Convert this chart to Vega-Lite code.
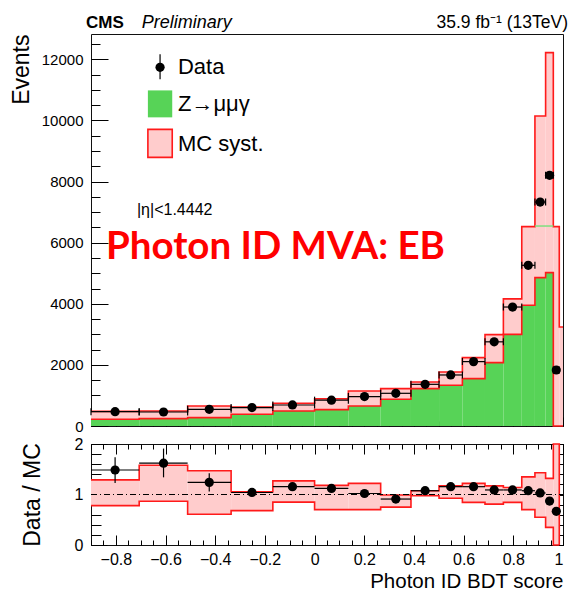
{
  "$schema": "https://vega.github.io/schema/vega-lite/v6.json",
  "padding": {"left": 9, "top": 13, "right": 2, "bottom": 2},
  "bounds": "flush",
  "spacing": 18,
  "background": "white",
  "config": {
    "view": {"stroke": "#111", "strokeWidth": 1},
    "axis": {"domain": false, "grid": false, "labelFont": "Liberation Sans", "labelFontSize": 15, "labelColor": "#000", "labelOverlap": false, "tickColor": "#000", "tickWidth": 1, "titleFont": "Liberation Sans", "titleFontWeight": "normal", "titleColor": "#000"},
    "text": {"font": "Liberation Sans", "color": "#000"}
  },
  "datasets": {
    "bins": [
      {"x0": -0.9, "x1": -0.706, "lo": 220, "hi": 480},
      {"x0": -0.706, "x1": -0.511, "lo": 242, "hi": 491},
      {"x0": -0.511, "x1": -0.336, "lo": 275, "hi": 654},
      {"x0": -0.336, "x1": -0.168, "lo": 383, "hi": 622},
      {"x0": -0.168, "x1": 0, "lo": 491, "hi": 743},
      {"x0": 0, "x1": 0.136, "lo": 535, "hi": 890},
      {"x0": 0.136, "x1": 0.266, "lo": 655, "hi": 1146},
      {"x0": 0.266, "x1": 0.388, "lo": 874, "hi": 1222},
      {"x0": 0.388, "x1": 0.501, "lo": 1222, "hi": 1441},
      {"x0": 0.501, "x1": 0.595, "lo": 1332, "hi": 1767},
      {"x0": 0.595, "x1": 0.686, "lo": 1551, "hi": 2238},
      {"x0": 0.686, "x1": 0.76, "lo": 2074, "hi": 2990},
      {"x0": 0.76, "x1": 0.834, "lo": 3000, "hi": 4160},
      {"x0": 0.834, "x1": 0.887, "lo": 3950, "hi": 6525},
      {"x0": 0.887, "x1": 0.93, "lo": 4856, "hi": 10145},
      {"x0": 0.93, "x1": 0.961, "lo": 5020, "hi": 12220},
      {"x0": 0.961, "x1": 0.985, "lo": 0, "hi": 6525},
      {"x0": 0.985, "x1": 1.0, "lo": 0, "hi": 3240}
    ],
    "outline": [
      {"x": -0.9, "hi": 480, "lo": 220},
      {"x": -0.706, "hi": 491, "lo": 242},
      {"x": -0.511, "hi": 654, "lo": 275},
      {"x": -0.336, "hi": 622, "lo": 383},
      {"x": -0.168, "hi": 743, "lo": 491},
      {"x": 0, "hi": 890, "lo": 535},
      {"x": 0.136, "hi": 1146, "lo": 655},
      {"x": 0.266, "hi": 1222, "lo": 874},
      {"x": 0.388, "hi": 1441, "lo": 1222},
      {"x": 0.501, "hi": 1767, "lo": 1332},
      {"x": 0.595, "hi": 2238, "lo": 1551},
      {"x": 0.686, "hi": 2990, "lo": 2074},
      {"x": 0.76, "hi": 4160, "lo": 3000},
      {"x": 0.834, "hi": 6525, "lo": 3950},
      {"x": 0.887, "hi": 10145, "lo": 4856},
      {"x": 0.93, "hi": 12220, "lo": 5020},
      {"x": 0.961, "hi": 6525, "lo": 0},
      {"x": 0.985, "hi": 3240, "lo": 0},
      {"x": 1.0, "hi": 3240, "lo": 0}
    ],
    "stripe": [{"x0": 0.887, "x1": 0.961, "y": 6545}],
    "pts": [
      {"x0": -0.9, "x1": -0.706, "xc": -0.803, "d": 470, "r": 1.485, "elo": 1.23, "ehi": 1.74},
      {"x0": -0.706, "x1": -0.511, "xc": -0.608, "d": 458, "r": 1.62, "elo": 1.34, "ehi": 1.91},
      {"x0": -0.511, "x1": -0.336, "xc": -0.424, "d": 546, "r": 1.24, "elo": 1.06, "ehi": 1.42},
      {"x0": -0.336, "x1": -0.168, "xc": -0.252, "d": 602, "r": 1.04, "elo": 0.96, "ehi": 1.12},
      {"x0": -0.168, "x1": 0, "xc": -0.089, "d": 688, "r": 1.155, "elo": 1.08, "ehi": 1.23},
      {"x0": 0, "x1": 0.136, "xc": 0.068, "d": 846, "r": 1.12, "elo": 1.06, "ehi": 1.18},
      {"x0": 0.136, "x1": 0.266, "xc": 0.201, "d": 962, "r": 1.02, "elo": 0.97, "ehi": 1.07},
      {"x0": 0.266, "x1": 0.388, "xc": 0.327, "d": 1070, "r": 0.91, "elo": 0.87, "ehi": 0.95},
      {"x0": 0.388, "x1": 0.501, "xc": 0.445, "d": 1364, "r": 1.075, "elo": 1.04, "ehi": 1.11},
      {"x0": 0.501, "x1": 0.595, "xc": 0.548, "d": 1670, "r": 1.155, "elo": 1.12, "ehi": 1.19},
      {"x0": 0.595, "x1": 0.686, "xc": 0.64, "d": 2107, "r": 1.155, "elo": 1.12, "ehi": 1.19},
      {"x0": 0.686, "x1": 0.76, "xc": 0.723, "d": 2755, "r": 1.09, "elo": 1.06, "ehi": 1.12},
      {"x0": 0.76, "x1": 0.834, "xc": 0.797, "d": 3894, "r": 1.09, "elo": 1.06, "ehi": 1.12},
      {"x0": 0.834, "x1": 0.887, "xc": 0.86, "d": 5259, "r": 1.075, "elo": 1.05, "ehi": 1.1},
      {"x0": 0.887, "x1": 0.93, "xc": 0.908, "d": 7330, "r": 1.03, "elo": 1.01, "ehi": 1.05},
      {"x0": 0.93, "x1": 0.961, "xc": 0.946, "d": 8204, "r": 0.87, "elo": 0.85, "ehi": 0.89},
      {"x0": 0.961, "x1": 0.985, "xc": 0.973, "d": 1833, "r": 0.667, "elo": 0.64, "ehi": 0.69}
    ],
    "rband": [
      {"x0": -0.9, "x1": -0.706, "rlo": 0.78, "rhi": 1.29},
      {"x0": -0.706, "x1": -0.511, "rlo": 0.865, "rhi": 1.58},
      {"x0": -0.511, "x1": -0.336, "rlo": 0.61, "rhi": 1.47},
      {"x0": -0.336, "x1": -0.168, "rlo": 0.68, "rhi": 1.055},
      {"x0": -0.168, "x1": 0, "rlo": 0.85, "rhi": 1.27},
      {"x0": 0, "x1": 0.136, "rlo": 0.7, "rhi": 1.18},
      {"x0": 0.136, "x1": 0.266, "rlo": 0.7, "rhi": 1.22},
      {"x0": 0.266, "x1": 0.388, "rlo": 0.75, "rhi": 0.99},
      {"x0": 0.388, "x1": 0.501, "rlo": 0.975, "rhi": 1.075},
      {"x0": 0.501, "x1": 0.595, "rlo": 0.925, "rhi": 1.17},
      {"x0": 0.595, "x1": 0.686, "rlo": 0.845, "rhi": 1.22},
      {"x0": 0.686, "x1": 0.76, "rlo": 0.81, "rhi": 1.17},
      {"x0": 0.76, "x1": 0.834, "rlo": 0.845, "rhi": 1.14},
      {"x0": 0.834, "x1": 0.887, "rlo": 0.7, "rhi": 1.35},
      {"x0": 0.887, "x1": 0.93, "rlo": 0.55, "rhi": 1.43},
      {"x0": 0.93, "x1": 0.961, "rlo": 0.35, "rhi": 1.32},
      {"x0": 0.961, "x1": 0.985, "rlo": 0, "rhi": 2}
    ],
    "routline": [
      {"x": -0.9, "rhi": 1.29, "rlo": 0.78},
      {"x": -0.706, "rhi": 1.58, "rlo": 0.865},
      {"x": -0.511, "rhi": 1.47, "rlo": 0.61},
      {"x": -0.336, "rhi": 1.055, "rlo": 0.68},
      {"x": -0.168, "rhi": 1.27, "rlo": 0.85},
      {"x": 0, "rhi": 1.18, "rlo": 0.7},
      {"x": 0.136, "rhi": 1.22, "rlo": 0.7},
      {"x": 0.266, "rhi": 0.99, "rlo": 0.75},
      {"x": 0.388, "rhi": 1.075, "rlo": 0.975},
      {"x": 0.501, "rhi": 1.17, "rlo": 0.925},
      {"x": 0.595, "rhi": 1.22, "rlo": 0.845},
      {"x": 0.686, "rhi": 1.17, "rlo": 0.81},
      {"x": 0.76, "rhi": 1.14, "rlo": 0.845},
      {"x": 0.834, "rhi": 1.35, "rlo": 0.7},
      {"x": 0.887, "rhi": 1.43, "rlo": 0.55},
      {"x": 0.93, "rhi": 1.32, "rlo": 0.35},
      {"x": 0.961, "rhi": 2, "rlo": 0},
      {"x": 0.985, "rhi": 0, "rlo": 0}
    ],
    "unity": [{"x0": -0.9, "x1": 1.0, "y": 1}],
    "notes": [
      {"k": "cms", "x": -0.92, "y": 13014, "t": "CMS"},
      {"k": "prel", "x": -0.696, "y": 13014, "t": "Preliminary"},
      {"k": "lumi", "x": 1.02, "y": 13030, "t": "35.9 fb⁻¹ (13TeV)"},
      {"k": "leg", "x": -0.55, "y": 11740, "t": "Data"},
      {"k": "leg", "x": -0.55, "y": 10527, "t": "Z→μμγ"},
      {"k": "leg", "x": -0.55, "y": 9220, "t": "MC syst."},
      {"k": "eta", "x": -0.715, "y": 7060, "t": "|η|<1.4442"},
      {"k": "big", "x": -0.84, "y": 5870, "t": "Photon ID MVA: EB"}
    ],
    "legpt": [{"x": -0.622, "y": 11740, "ylo": 11347, "yhi": 12166}],
    "legbox": [
      {"k": "mc", "x0": -0.671, "x1": -0.573, "y0": 10102, "y1": 10984},
      {"k": "syst", "x0": -0.671, "x1": -0.573, "y0": 8793, "y1": 9709}
    ]
  },
  "vconcat": [
    {
      "width": 472,
      "height": 392,
      "resolve": {"scale": {"x": "shared", "y": "shared"}, "axis": {"x": "independent", "y": "independent"}},
      "layer": [
        {
          "data": {"name": "bins"},
          "mark": {"type": "rect", "fill": "#57D357"},
          "encoding": {
            "x": {"field": "x0", "type": "quantitative", "scale": {"domain": [-0.9, 1.0], "nice": false, "zero": false},
                  "axis": {"orient": "bottom", "values": [-0.8, -0.6, -0.4, -0.2, 0, 0.2, 0.4, 0.6, 0.8, 1.0], "labels": false, "tickSize": -9, "title": null}},
            "x2": {"field": "x1"},
            "y": {"field": "lo", "type": "quantitative", "scale": {"domain": [0, 12830], "nice": false},
                  "axis": {"orient": "left", "values": [0, 2000, 4000, 6000, 8000, 10000, 12000], "format": "d", "tickSize": -17, "labelPadding": 25, "title": "Events", "titleFontSize": 23, "titleAnchor": "end", "titlePadding": 8}},
            "y2": {"datum": 0}
          }
        },
        {
          "data": {"name": "bins"},
          "mark": {"type": "rect", "fill": "#FFCCCC"},
          "encoding": {
            "x": {"field": "x0", "type": "quantitative",
                  "axis": {"orient": "bottom", "values": [-0.9,-0.85,-0.8,-0.75,-0.7,-0.65,-0.6,-0.55,-0.5,-0.45,-0.4,-0.35,-0.3,-0.25,-0.2,-0.15,-0.1,-0.05,0,0.05,0.1,0.15,0.2,0.25,0.3,0.35,0.4,0.45,0.5,0.55,0.6,0.65,0.7,0.75,0.8,0.85,0.9,0.95,1.0], "labels": false, "tickSize": -5, "title": null}},
            "x2": {"field": "x1"},
            "y": {"field": "lo", "type": "quantitative",
                  "axis": {"orient": "left", "values": [0,500,1000,1500,2000,2500,3000,3500,4000,4500,5000,5500,6000,6500,7000,7500,8000,8500,9000,9500,10000,10500,11000,11500,12000,12500], "labels": false, "tickSize": -9, "title": null}},
            "y2": {"field": "hi"}
          }
        },
        {
          "data": {"name": "outline"},
          "mark": {"type": "line", "interpolate": "step-after", "stroke": "#FF1A1A", "strokeWidth": 1.6},
          "encoding": {
            "x": {"field": "x", "type": "quantitative", "axis": null},
            "y": {"field": "hi", "type": "quantitative", "axis": null}
          }
        },
        {
          "data": {"name": "outline"},
          "mark": {"type": "line", "interpolate": "step-after", "stroke": "#FF1A1A", "strokeWidth": 1.6},
          "encoding": {
            "x": {"field": "x", "type": "quantitative", "axis": null},
            "y": {"field": "lo", "type": "quantitative", "axis": null}
          }
        },
        {
          "data": {"name": "stripe"},
          "mark": {"type": "rule", "stroke": "#7FDF7F", "strokeWidth": 1.5},
          "encoding": {
            "x": {"field": "x0", "type": "quantitative", "axis": null},
            "x2": {"field": "x1"},
            "y": {"field": "y", "type": "quantitative", "axis": null}
          }
        },
        {
          "data": {"name": "pts"},
          "mark": {"type": "rule", "stroke": "#000", "strokeWidth": 1.2},
          "encoding": {
            "x": {"field": "x0", "type": "quantitative", "axis": null},
            "x2": {"field": "x1"},
            "y": {"field": "d", "type": "quantitative", "axis": null}
          }
        },
        {
          "data": {"name": "pts"},
          "mark": {"type": "tick", "orient": "vertical", "color": "#000", "size": 7, "thickness": 1.2, "opacity": 1},
          "encoding": {
            "x": {"field": "x0", "type": "quantitative", "axis": null},
            "y": {"field": "d", "type": "quantitative", "axis": null}
          }
        },
        {
          "data": {"name": "pts"},
          "mark": {"type": "tick", "orient": "vertical", "color": "#000", "size": 7, "thickness": 1.2, "opacity": 1},
          "encoding": {
            "x": {"field": "x1", "type": "quantitative", "axis": null},
            "y": {"field": "d", "type": "quantitative", "axis": null}
          }
        },
        {
          "data": {"name": "pts"},
          "mark": {"type": "point", "shape": "circle", "filled": true, "fill": "#000", "opacity": 1, "size": 85},
          "encoding": {
            "x": {"field": "xc", "type": "quantitative", "axis": null},
            "y": {"field": "d", "type": "quantitative", "axis": null}
          }
        },
        {
          "data": {"name": "legbox"},
          "transform": [{"filter": "datum.k == 'mc'"}],
          "mark": {"type": "rect", "fill": "#57D357"},
          "encoding": {
            "x": {"field": "x0", "type": "quantitative", "axis": null},
            "x2": {"field": "x1"},
            "y": {"field": "y0", "type": "quantitative", "axis": null},
            "y2": {"field": "y1"}
          }
        },
        {
          "data": {"name": "legbox"},
          "transform": [{"filter": "datum.k == 'syst'"}],
          "mark": {"type": "rect", "fill": "#FFCCCC", "stroke": "#FF1A1A", "strokeWidth": 1.6},
          "encoding": {
            "x": {"field": "x0", "type": "quantitative", "axis": null},
            "x2": {"field": "x1"},
            "y": {"field": "y0", "type": "quantitative", "axis": null},
            "y2": {"field": "y1"}
          }
        },
        {
          "data": {"name": "legpt"},
          "mark": {"type": "rule", "stroke": "#000", "strokeWidth": 1.2},
          "encoding": {
            "x": {"field": "x", "type": "quantitative", "axis": null},
            "y": {"field": "ylo", "type": "quantitative", "axis": null},
            "y2": {"field": "yhi"}
          }
        },
        {
          "data": {"name": "legpt"},
          "mark": {"type": "point", "shape": "circle", "filled": true, "fill": "#000", "opacity": 1, "size": 85},
          "encoding": {
            "x": {"field": "x", "type": "quantitative", "axis": null},
            "y": {"field": "y", "type": "quantitative", "axis": null}
          }
        },
        {
          "data": {"name": "notes"},
          "transform": [{"filter": "datum.k == 'cms'"}],
          "mark": {"type": "text", "align": "left", "baseline": "alphabetic", "fontSize": 17, "fontWeight": "bold"},
          "encoding": {
            "x": {"field": "x", "type": "quantitative", "axis": null},
            "y": {"field": "y", "type": "quantitative", "axis": null},
            "text": {"field": "t"}
          }
        },
        {
          "data": {"name": "notes"},
          "transform": [{"filter": "datum.k == 'prel'"}],
          "mark": {"type": "text", "align": "left", "baseline": "alphabetic", "fontSize": 18, "fontStyle": "italic"},
          "encoding": {
            "x": {"field": "x", "type": "quantitative", "axis": null},
            "y": {"field": "y", "type": "quantitative", "axis": null},
            "text": {"field": "t"}
          }
        },
        {
          "data": {"name": "notes"},
          "transform": [{"filter": "datum.k == 'lumi'"}],
          "mark": {"type": "text", "align": "right", "baseline": "alphabetic", "fontSize": 17.5},
          "encoding": {
            "x": {"field": "x", "type": "quantitative", "axis": null},
            "y": {"field": "y", "type": "quantitative", "axis": null},
            "text": {"field": "t"}
          }
        },
        {
          "data": {"name": "notes"},
          "transform": [{"filter": "datum.k == 'leg'"}],
          "mark": {"type": "text", "align": "left", "baseline": "middle", "fontSize": 22},
          "encoding": {
            "x": {"field": "x", "type": "quantitative", "axis": null},
            "y": {"field": "y", "type": "quantitative", "axis": null},
            "text": {"field": "t"}
          }
        },
        {
          "data": {"name": "notes"},
          "transform": [{"filter": "datum.k == 'eta'"}],
          "mark": {"type": "text", "align": "left", "baseline": "middle", "fontSize": 16},
          "encoding": {
            "x": {"field": "x", "type": "quantitative", "axis": null},
            "y": {"field": "y", "type": "quantitative", "axis": null},
            "text": {"field": "t"}
          }
        },
        {
          "data": {"name": "notes"},
          "transform": [{"filter": "datum.k == 'big'"}],
          "mark": {"type": "text", "align": "left", "baseline": "middle", "fontSize": 38.5, "fontWeight": "bold", "font": "Lato", "color": "#FF0000"},
          "encoding": {
            "x": {"field": "x", "type": "quantitative", "axis": null},
            "y": {"field": "y", "type": "quantitative", "axis": null},
            "text": {"field": "t"}
          }
        }
      ]
    },
    {
      "width": 472,
      "height": 101,
      "resolve": {"scale": {"x": "shared", "y": "shared"}, "axis": {"x": "independent", "y": "independent"}},
      "layer": [
        {
          "data": {"name": "rband"},
          "mark": {"type": "rect", "fill": "#FFCCCC"},
          "encoding": {
            "x": {"field": "x0", "type": "quantitative", "scale": {"domain": [-0.9, 1.0], "nice": false, "zero": false},
                  "axis": {"orient": "bottom", "values": [-0.8, -0.6, -0.4, -0.2, 0, 0.2, 0.4, 0.6, 0.8, 1.0], "format": "~g", "labelFontSize": 16, "tickSize": -10, "labelPadding": 16, "title": "Photon ID BDT score", "titleFontSize": 20.5, "titleAnchor": "end", "titlePadding": 4}},
            "x2": {"field": "x1"},
            "y": {"field": "rlo", "type": "quantitative", "scale": {"domain": [0, 2], "nice": false},
                  "axis": {"orient": "left", "values": [0, 1, 2], "labelExpr": "datum.value == 0 ? '0' : (datum.value == 1 ? '1' : '2')", "labelOverlap": false, "labelBound": false, "labelFlush": false, "labelFontSize": 16, "tickSize": -16, "labelPadding": 24, "title": "Data / MC", "titleFontSize": 23, "titlePadding": 30}},
            "y2": {"field": "rhi"}
          }
        },
        {
          "data": {"name": "routline"},
          "mark": {"type": "line", "interpolate": "step-after", "stroke": "#FF1A1A", "strokeWidth": 1.6},
          "encoding": {
            "x": {"field": "x", "type": "quantitative",
                  "axis": {"orient": "bottom", "values": [-0.9,-0.85,-0.8,-0.75,-0.7,-0.65,-0.6,-0.55,-0.5,-0.45,-0.4,-0.35,-0.3,-0.25,-0.2,-0.15,-0.1,-0.05,0,0.05,0.1,0.15,0.2,0.25,0.3,0.35,0.4,0.45,0.5,0.55,0.6,0.65,0.7,0.75,0.8,0.85,0.9,0.95,1.0], "labels": false, "tickSize": -5, "title": null}},
            "y": {"field": "rhi", "type": "quantitative",
                  "axis": {"orient": "left", "values": [0,0.2,0.4,0.6,0.8,1,1.2,1.4,1.6,1.8,2], "labels": false, "tickSize": -10, "title": null}}
          }
        },
        {
          "data": {"name": "routline"},
          "mark": {"type": "line", "interpolate": "step-after", "stroke": "#FF1A1A", "strokeWidth": 1.6},
          "encoding": {
            "x": {"field": "x", "type": "quantitative",
                  "axis": {"orient": "top", "values": [-0.8, -0.6, -0.4, -0.2, 0, 0.2, 0.4, 0.6, 0.8, 1.0], "labels": false, "tickSize": -10, "title": null}},
            "y": {"field": "rlo", "type": "quantitative",
                  "axis": {"orient": "right", "values": [0, 1, 2], "labels": false, "tickSize": -14, "title": null}}
          }
        },
        {
          "data": {"name": "unity"},
          "mark": {"type": "rule", "stroke": "#000", "strokeWidth": 1, "strokeDash": [6, 3, 1, 3]},
          "encoding": {
            "x": {"field": "x0", "type": "quantitative", "axis": null},
            "x2": {"field": "x1"},
            "y": {"field": "y", "type": "quantitative", "axis": null}
          }
        },
        {
          "data": {"name": "pts"},
          "mark": {"type": "rule", "stroke": "#000", "strokeWidth": 1.2},
          "encoding": {
            "x": {"field": "x0", "type": "quantitative",
                  "axis": {"orient": "top", "values": [-0.9,-0.85,-0.8,-0.75,-0.7,-0.65,-0.6,-0.55,-0.5,-0.45,-0.4,-0.35,-0.3,-0.25,-0.2,-0.15,-0.1,-0.05,0,0.05,0.1,0.15,0.2,0.25,0.3,0.35,0.4,0.45,0.5,0.55,0.6,0.65,0.7,0.75,0.8,0.85,0.9,0.95,1.0], "labels": false, "tickSize": -5, "title": null}},
            "x2": {"field": "x1"},
            "y": {"field": "r", "type": "quantitative",
                  "axis": {"orient": "right", "values": [0,0.2,0.4,0.6,0.8,1,1.2,1.4,1.6,1.8,2], "labels": false, "tickSize": -7, "title": null}}
          }
        },
        {
          "data": {"name": "pts"},
          "mark": {"type": "rule", "stroke": "#000", "strokeWidth": 1.2},
          "encoding": {
            "x": {"field": "xc", "type": "quantitative", "axis": null},
            "y": {"field": "elo", "type": "quantitative", "axis": null},
            "y2": {"field": "ehi"}
          }
        },
        {
          "data": {"name": "pts"},
          "mark": {"type": "point", "shape": "circle", "filled": true, "fill": "#000", "opacity": 1, "size": 85},
          "encoding": {
            "x": {"field": "xc", "type": "quantitative", "axis": null},
            "y": {"field": "r", "type": "quantitative", "axis": null}
          }
        }
      ]
    }
  ]
}
